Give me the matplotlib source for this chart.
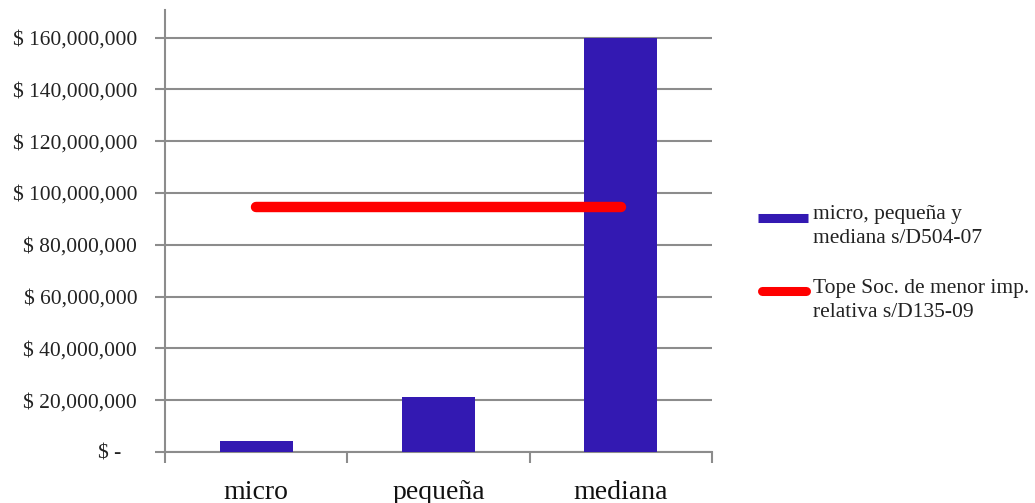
import matplotlib.pyplot as plt
from matplotlib.lines import Line2D

# datos
categorias = ['micro', 'pequeña', 'mediana']
tope_empresas = [4_300_000, 21_200_000, 160_000_000]
tope_soc = [94_500_000, 94_500_000, 94_500_000]
serie_barras = 'micro, pequeña y\nmediana s/D504-07'
serie_linea = 'Tope Soc. de menor imp.\nrelativa s/D135-09'
yticks = list(range(0, 160_000_001, 20_000_000))

azul = '#3319B2'
rojo = '#FF0000'
gris = '#8C8C8C'

plt.rcParams['font.family'] = ['Liberation Serif', 'DejaVu Serif']

fig = plt.figure(figsize=(10.35, 5.03), dpi=100)
ax = fig.add_axes([0.1594, 0.1014, 0.5285, 0.8786])

x = range(len(categorias))
ax.bar(x, tope_empresas, width=0.40, color=azul, zorder=3)
ax.plot(x, tope_soc, color=rojo, linewidth=7.5, solid_capstyle='round', zorder=4)

ax.set_xlim(-0.5, 2.5)
ax.set_ylim(0, 170_600_000)

def fmt(v):
    return '$ -   ' if v == 0 else f'$ {v:,.0f}'

ax.set_yticks(yticks)
ax.set_yticklabels([fmt(v) for v in yticks], fontsize=15.5, color='#222222')
ax.tick_params(axis='y', length=7, width=1.5, color=gris, pad=13)
ax.yaxis.grid(True, color=gris, linewidth=1.5, zorder=0)

ax.set_xticks(list(x))
ax.set_xticklabels(categorias, fontsize=20, color='#111111')
ax.tick_params(axis='x', which='major', length=0, pad=20)
ax.set_xticks([-0.5, 0.5, 1.5, 2.5], minor=True)
ax.tick_params(axis='x', which='minor', length=8, width=1.5, color=gris)

for lado in ['top', 'right']:
    ax.spines[lado].set_visible(False)
for lado in ['left', 'bottom']:
    ax.spines[lado].set_color(gris)
    ax.spines[lado].set_linewidth(1.5)

# leyenda dibujada a mano
W, H = 1035, 503
fig.add_artist(Line2D([758 / W, 808 / W], [1 - 218 / H, 1 - 218 / H],
                      color=azul, linewidth=6.5, solid_capstyle='butt'))
fig.add_artist(Line2D([762 / W, 806 / W], [1 - 291 / H, 1 - 291 / H],
                      color=rojo, linewidth=6.5, solid_capstyle='round'))
fig.text(813 / W, 1 - 205 / H, serie_barras, fontsize=15.5, va='top',
         linespacing=1.35, color='#222222')
fig.text(813 / W, 1 - 279 / H, serie_linea, fontsize=15.5, va='top',
         linespacing=1.35, color='#222222')

fig.savefig('out.png', dpi=100)
